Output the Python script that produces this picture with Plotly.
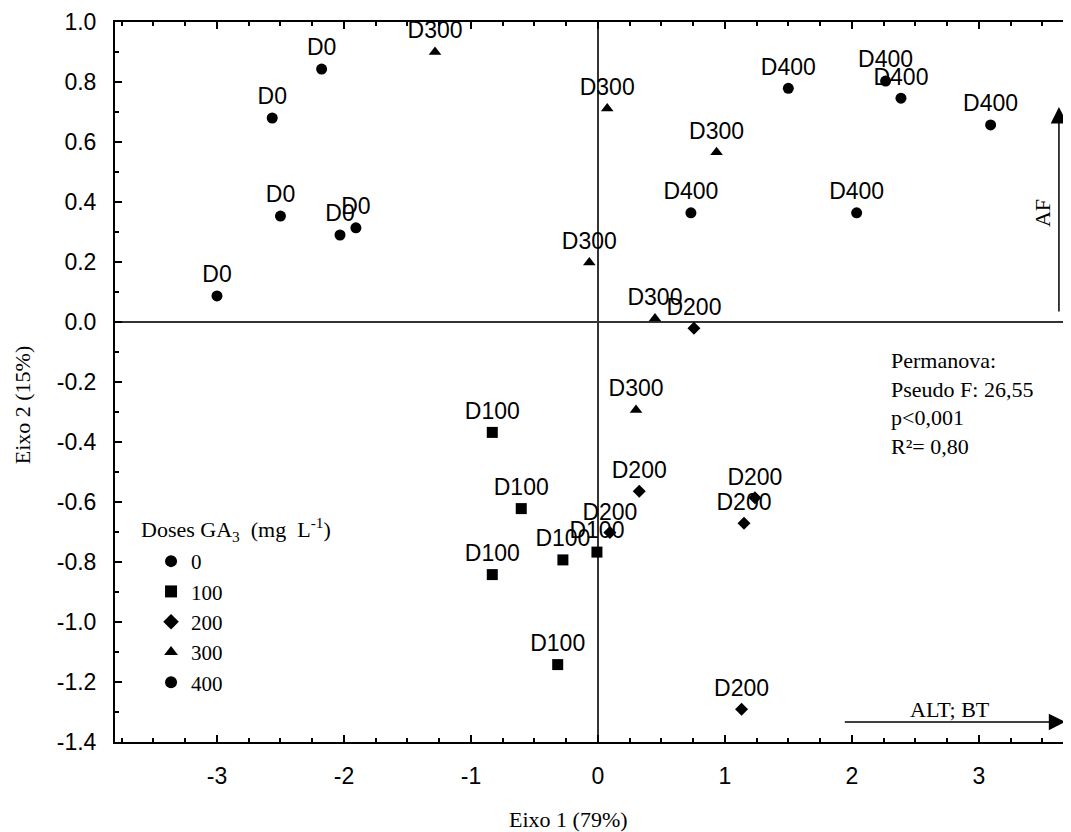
import plotly.graph_objects as go

# ---- data ----
d0_x = [-2.176, -2.565, -2.50, -2.031, -1.906, -3.00]
d0_y = [0.843, 0.680, 0.353, 0.290, 0.314, 0.087]

d100_x = [-0.832, -0.604, -0.276, -0.008, -0.832, -0.317]
d100_y = [-0.368, -0.622, -0.793, -0.767, -0.842, -1.142]

d200_x = [0.756, 0.325, 0.094, 1.236, 1.150, 1.131]
d200_y = [-0.021, -0.564, -0.702, -0.586, -0.671, -1.291]

d300_x = [-1.283, 0.073, 0.934, -0.068, 0.449, 0.300]
d300_y = [0.900, 0.712, 0.566, 0.198, 0.012, -0.293]

d400_x = [0.732, 1.499, 2.265, 2.386, 3.092, 2.037]
d400_y = [0.364, 0.779, 0.803, 0.746, 0.657, 0.364]

series_names = ["0", "100", "200", "300", "400"]
point_labels = ["D0", "D100", "D200", "D300", "D400"]
series_symbols = ["circle", "square", "diamond", "triangle-up", "circle"]
series_sizes = [11, 11, 10, 11, 11]

xtick_vals = [-3, -2, -1, 0, 1, 2, 3]
xtick_text = ["-3", "-2", "-1", "0", "1", "2", "3"]
ytick_vals = [1.0, 0.8, 0.6, 0.4, 0.2, 0.0, -0.2, -0.4, -0.6, -0.8, -1.0, -1.2, -1.4]
ytick_text = ["1.0", "0.8", "0.6", "0.4", "0.2", "0.0", "-0.2", "-0.4", "-0.6",
              "-0.8", "-1.0", "-1.2", "-1.4"]

SANS = "Liberation Sans, Arial, sans-serif"
SERIF = "Liberation Serif, Times New Roman, serif"

xs = [d0_x, d100_x, d200_x, d300_x, d400_x]
ys = [d0_y, d100_y, d200_y, d300_y, d400_y]

fig = go.Figure()
for name, lab, sym, sz, x, y in zip(series_names, point_labels, series_symbols,
                                    series_sizes, xs, ys):
    fig.add_trace(go.Scatter(
        x=x, y=y, name=name, mode="markers+text",
        text=[lab] * len(x), textposition="top center",
        textfont=dict(family=SANS, size=23, color="black"),
        marker=dict(symbol=sym, size=sz, color="black"),
        cliponaxis=False,
    ))

axis_common = dict(
    showgrid=False, showline=True, linecolor="black", linewidth=2,
    ticks="inside", tickcolor="black", tickwidth=1.5, ticklen=7,
    zeroline=True, zerolinecolor="#333333", zerolinewidth=1.5,
    tickfont=dict(family=SANS, size=23, color="black"),
    automargin=False,
)

fig.update_xaxes(
    range=[-3.803, 3.725], tickmode="array", tickvals=xtick_vals, ticktext=xtick_text,
    mirror="allticks", ticklabelstandoff=12,
    minor=dict(dtick=0.25, ticks="inside", ticklen=4, tickcolor="black", tickwidth=1.5),
    **axis_common,
)
fig.update_yaxes(
    range=[-1.4, 1.0], tickmode="array", tickvals=ytick_vals, ticktext=ytick_text,
    mirror=False, ticklabelstandoff=12,
    minor=dict(dtick=0.1, ticks="inside", ticklen=4, tickcolor="black", tickwidth=1.5),
    **axis_common,
)

annotations = [
    dict(xref="paper", yref="paper", x=0.474, y=-0.108, text="Eixo 1 (79%)",
         showarrow=False, font=dict(family=SERIF, size=22, color="black"),
         xanchor="center", yanchor="middle"),
    dict(xref="paper", yref="paper", x=-0.0973, y=0.469, text="Eixo 2 (15%)",
         textangle=-90, showarrow=False, font=dict(family=SERIF, size=22, color="black"),
         xanchor="center", yanchor="middle"),
    dict(xref="x", yref="y", x=2.29, y=-0.08, xanchor="left", yanchor="top",
         align="left", showarrow=False,
         text="Permanova:<br>Pseudo F: 26,55<br>p&lt;0,001<br>R²= 0,80",
         font=dict(family=SERIF, size=22, color="black")),
    # legend title
    dict(xref="paper", yref="paper", x=0.0251, y=0.2945, xanchor="left", yanchor="middle",
         showarrow=False, text="Doses GA<sub>3</sub>  (mg  L<sup>-1</sup>)",
         font=dict(family=SERIF, size=22, color="black")),
    # arrows (head in data coords, tail offset in pixels)
    dict(xref="x", yref="y", x=3.63, y=0.717, ax=0, ay=206,
         text="", showarrow=True, arrowhead=2, arrowsize=2.2, arrowwidth=1.5,
         arrowcolor="black"),
    dict(xref="x", yref="y", x=3.68, y=-1.333, ax=-222, ay=0,
         text="", showarrow=True, arrowhead=2, arrowsize=2.2, arrowwidth=1.5,
         arrowcolor="black"),
    dict(xref="x", yref="y", x=3.496, y=0.363, text="AF", textangle=-90, showarrow=False,
         font=dict(family=SERIF, size=22, color="black")),
    dict(xref="x", yref="y", x=2.772, y=-1.29, text="ALT; BT", showarrow=False,
         font=dict(family=SERIF, size=22, color="black")),
]

# the page body adds an 8px offset; margins compensate so the plot area
# lands at the reference position in the browser window
fig.update_layout(
    width=1071, height=832,
    margin=dict(l=107, r=8, t=14, b=98, autoexpand=False),
    paper_bgcolor="white", plot_bgcolor="white",
    showlegend=True,
    legend=dict(
        x=0.0377, y=0.2792, xanchor="left", yanchor="top",
        bgcolor="rgba(0,0,0,0)",
        font=dict(family=SERIF, size=21, color="black"),
        itemsizing="constant",
    ),
    annotations=annotations,
)

fig.write_html("out.html")
